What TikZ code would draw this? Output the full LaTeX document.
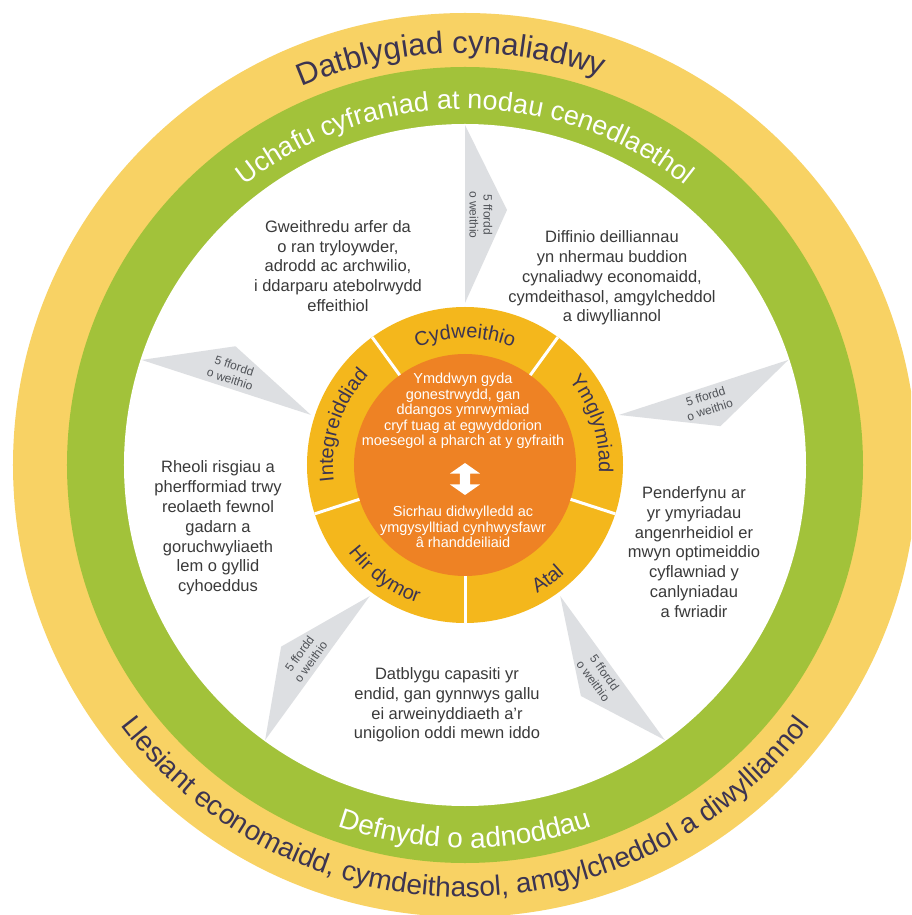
\documentclass[tikz,border=0pt]{standalone}
\usepackage{fontspec}
\setmainfont{Liberation Sans}
\usetikzlibrary{positioning, decorations.text, shapes.arrows}
\definecolor{sunyellow}{HTML}{F8D264}
\definecolor{leafgreen}{HTML}{A2C23A}
\definecolor{goldring}{HTML}{F4B71C}
\definecolor{coreorange}{HTML}{EE8224}
\definecolor{inkpurple}{HTML}{3C3451}
\definecolor{bodygrey}{HTML}{3A3A3A}
\definecolor{waygrey}{HTML}{DDDFE2}
\definecolor{wayink}{HTML}{505358}
\newcommand\titlefont{\fontsize{31}{31}\selectfont}
\newcommand\bandfont{\fontsize{27}{27}\selectfont}
\newcommand\lowbandfont{\fontsize{28}{28}\selectfont}
\newcommand\ringfont{\fontsize{20}{20}\selectfont}
\tikzset{
	bodytext/.style={
		align=center,
		text=bodygrey,
		inner sep=0pt,
		font=\fontsize{16.5}{19.8}\selectfont,
	},
	coretext/.style={
		align=center,
		text=white,
		inner sep=0pt,
		font=\fontsize{14.5}{15.5}\selectfont,
	},
	waytext/.style={
		align=center,
		text=wayink,
		inner sep=0pt,
		font=\fontsize{12}{14}\selectfont,
	},
	way/.style={
		fill=waygrey,
	},
	divider/.style={
		white,
		line width=3pt,
	},
	arclabel/.style={
		decorate,
		decoration={text along path, text align=center, text color=#1},
	},
}

\begin{document}
\begin{tikzpicture}[x=1pt, y=1pt]
	\useasboundingbox (-465,-450) rectangle (446,465);
	\clip (-465,-450) rectangle (446,465);
	\fill[white] (-465,-450) rectangle (446,465);
	\coordinate (hub) at (0,0);

	% rings
	\fill[sunyellow] (hub) circle[radius=452];
	\fill[leafgreen] (hub) circle[radius=398];
	\fill[white] (hub) circle[radius=341];

	% five ways of working
	\foreach \a/\t [count=\i] in {90/-90, 18/18, -54/-54, -126/54, 162/-18} {
		\begin{scope}[rotate=\a]
			\fill[way] (162,0) -- (255,-42) -- (340,0) -- cycle;
			\node[waytext, rotate=\t] (way\i) at (250,-16) {5 ffordd\\o weithio};
		\end{scope}
	}

	\fill[goldring] (hub) circle[radius=158];
	\fill[coreorange] (hub) circle[radius=111];
	\foreach \a in {-90,-18,54,126,198}
		\draw[divider] (\a:111) -- (\a:158);

	% band texts
	\path[arclabel=inkpurple, decoration={text={|\titlefont|Datblygiad cynaliadwy}}]
		(182:412) arc[start angle=182, end angle=2, radius=412];
	\path[arclabel=white, decoration={text={|\bandfont|Uchafu cyfraniad at nodau cenedlaethol}}]
		(180:356) arc[start angle=180, end angle=0, radius=356];
	\path[arclabel=white, decoration={text={|\lowbandfont|Defnydd o adnoddau}}]
		(180:383) arc[start angle=180, end angle=360, radius=383];
	\path[arclabel=inkpurple, decoration={text={|\lowbandfont|Llesiant economaidd, cymdeithasol, amgylcheddol a diwylliannol}}]
		(180:432) arc[start angle=180, end angle=360, radius=432];

	% principles
	\path[arclabel=inkpurple, decoration={text={|\ringfont|Cydweithio}}]
		(170:127) arc[start angle=170, end angle=10, radius=127];
	\path[arclabel=inkpurple, decoration={text={|\ringfont|Ymglymiad}}]
		(98:134) arc[start angle=98, end angle=-62, radius=134];
	\path[arclabel=inkpurple, decoration={text={|\ringfont|Integreiddiad}}]
		(242:132) arc[start angle=242, end angle=82, radius=132];
	\path[arclabel=inkpurple, decoration={text={|\ringfont|Hir dymor}}]
		(164:146) arc[start angle=164, end angle=304, radius=146];
	\path[arclabel=inkpurple, decoration={text={|\ringfont|Atal}}]
		(-124:147) arc[start angle=-124, end angle=16, radius=147];

	% core
	\node[coretext] (ethics) at (-2,54) {Ymddwyn gyda\\gonestrwydd, gan\\ddangos ymrwymiad\\cryf tuag at egwyddorion\\moesegol a pharch at y gyfraith};
	\node[double arrow, fill=white, rotate=90, inner sep=5pt, minimum height=32pt,
		double arrow head extend=10pt, double arrow tip angle=110] (link) at (0,-14) {};
	\node[coretext] (openness) at (-2,-62) {Sicrhau didwylledd ac\\ymgysylltiad cynhwysfawr\\â rhanddeiliaid};

	% outcomes
	\node[bodytext] (practice) at (-127,199) {Gweithredu arfer da\\o ran tryloywder,\\adrodd ac archwilio,\\i ddarparu atebolrwydd\\effeithiol};
	\node[bodytext] (outcomes) at (147,187) {Diffinio deilliannau\\yn nhermau buddion\\cynaliadwy economaidd,\\cymdeithasol, amgylcheddol\\a diwylliannol};
	\node[bodytext] (risk) at (-247,-63) {Rheoli risgiau a\\pherfformiad trwy\\reolaeth fewnol\\gadarn a\\goruchwyliaeth\\lem o gyllid\\cyhoeddus};
	\node[bodytext] (decide) at (229,-87) {Penderfynu ar\\yr ymyriadau\\angenrheidiol er\\mwyn optimeiddio\\cyflawniad y\\canlyniadau\\a fwriadir};
	\node[bodytext] (capacity) at (-18,-240) {Datblygu capasiti yr\\endid, gan gynnwys gallu\\ei arweinyddiaeth a'r\\unigolion oddi mewn iddo};
\end{tikzpicture}
\end{document}
